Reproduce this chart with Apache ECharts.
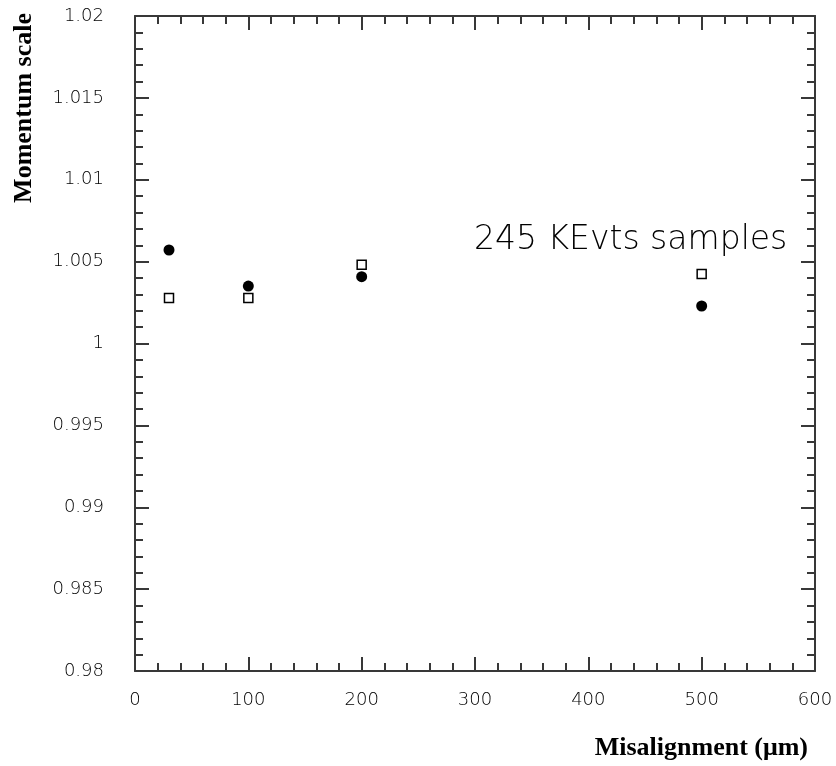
<!DOCTYPE html>
<html>
<head>
<meta charset="utf-8">
<script src="https://cdn.jsdelivr.net/npm/echarts@6/dist/echarts.min.js"></script>
<style>
  html, body { margin: 0; padding: 0; background: #fff; }
  #main { width: 836px; height: 766px; }
</style>
</head>
<body>
<div id="main"></div>
<script>
// misalignment values (um)
const misalign = [30, 100, 200, 500];
// momentum scale, filled circles
const scaleFilled = [1.00571, 1.00351, 1.00408, 1.00229];
// momentum scale, open squares
const scaleOpen = [1.00278, 1.00278, 1.00481, 1.00424];

const chartDom = document.getElementById('main');
const myChart = echarts.init(chartDom);

const axisColor = '#383838';
const labelFont = { color: '#000', fontFamily: 'DejaVu Sans', fontSize: 18, fontWeight: 200 };

// shared look of the frame axes, ticks pointing into the plot
const frame = (extra) => Object.assign({
    axisLine: { onZero: false, lineStyle: { color: axisColor, width: 2 } },
    axisTick: { inside: true, length: 14, lineStyle: { color: axisColor, width: 2 } },
    minorTick: { show: true, splitNumber: 5, length: 8, lineStyle: { color: axisColor, width: 2 } },
    splitLine: { show: false }
}, extra);

const option = {
    animation: false,
    backgroundColor: '#fff',
    grid: { left: 135, right: 21, top: 16, bottom: 95 },
    xAxis: [
        frame({
            type: 'value', min: 0, max: 600, interval: 100, position: 'bottom',
            axisLabel: Object.assign({ margin: 20 }, labelFont)
        }),
        frame({
            type: 'value', min: 0, max: 600, interval: 100, position: 'top',
            axisLabel: { show: false }
        })
    ],
    yAxis: [
        frame({
            type: 'value', min: 0.98, max: 1.02, interval: 0.005, position: 'left',
            axisLabel: Object.assign({
                margin: 31,
                formatter: v => String(parseFloat(v.toFixed(3)))
            }, labelFont)
        }),
        frame({
            type: 'value', min: 0.98, max: 1.02, interval: 0.005, position: 'right',
            axisLabel: { show: false }
        })
    ],
    series: [
        {
            name: 'filled',
            type: 'scatter',
            symbol: 'circle',
            symbolSize: 11,
            itemStyle: { color: '#000', opacity: 1 },
            data: misalign.map((x, i) => [x, scaleFilled[i]])
        },
        {
            name: 'open',
            type: 'scatter',
            symbol: 'rect',
            symbolSize: 9,
            itemStyle: { color: '#fff', borderColor: '#000', borderWidth: 1.5, opacity: 1 },
            data: misalign.map((x, i) => [x, scaleOpen[i]])
        }
    ],
    graphic: [
        {
            type: 'text', x: 474, y: 240,
            style: {
                text: '245 KEvts samples', fill: '#000', textVerticalAlign: 'middle',
                font: '200 33px "DejaVu Sans"'
            }
        },
        {
            type: 'text', x: 24, y: 13, rotation: Math.PI / 2,
            style: {
                text: 'Momentum scale', fill: '#000', textAlign: 'right', textVerticalAlign: 'middle',
                font: 'bold 26px "Liberation Serif"'
            }
        },
        {
            type: 'text', x: 808, y: 748,
            style: {
                text: 'Misalignment (\u03bcm)', fill: '#000', textAlign: 'right', textVerticalAlign: 'middle',
                font: 'bold 26px "Liberation Serif"'
            }
        }
    ]
};

myChart.setOption(option);
</script>
</body>
</html>
